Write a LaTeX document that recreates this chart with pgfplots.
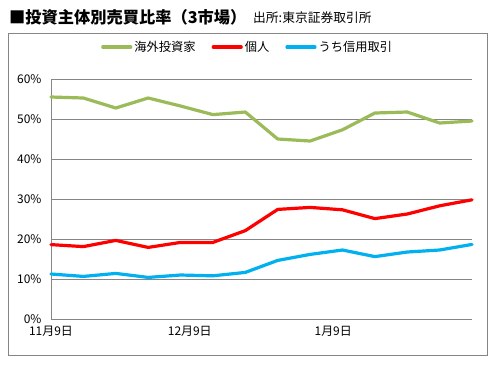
\documentclass[border=0pt]{standalone}
\usepackage{fontspec}
\setmainfont{Noto Sans CJK JP}
\usepackage{pgfplots}
\pgfplotsset{compat=1.18}

\definecolor{cgreen}{HTML}{9BBB59}
\definecolor{cred}{HTML}{FF0000}
\definecolor{cblue}{HTML}{00B0F0}
\definecolor{cgrid}{HTML}{868686}

\begin{document}
\begin{tikzpicture}[x=1bp,y=1bp]
\useasboundingbox (0,0) rectangle (494,-364);
\fill[white] (0,0) rectangle (494,-364);
\draw[cgrid, line width=1bp] (8,-33) rectangle (487,-355);
\node[anchor=base west, inner sep=0, font=\fontsize{16.3}{16}\selectfont\bfseries] at (9,-23) {■投資主体別売買比率（3市場）};
\node[anchor=base west, inner sep=0, font=\fontsize{12.8}{12.8}\selectfont] at (253,-22) {出所:東京証券取引所};
\begin{axis}[
  at={(51bp,-319bp)}, anchor=south west,
  scale only axis, width=421bp, height=240bp,
  xmin=0, xmax=91, ymin=0, ymax=60,
  axis x line=bottom, axis y line=left,
  axis line style={cgrid, line width=1bp, -},
  ymajorgrids, grid style={cgrid, line width=1bp},
  ytick={0,10,...,60},
  yticklabel={\pgfmathprintnumber{\tick}\%},
  xtick={0,30,61}, xticklabels={11月9日,12月9日,1月9日},
  major tick length=0,
  tick label style={font=\fontsize{12}{12}\selectfont},
  /pgf/number format/assume math mode=true,
  xticklabel style={yshift=-4bp},
  yticklabel style={xshift=-6bp},
  clip=false,
  legend style={at={(0.467,1.133)}, anchor=center, draw=none, fill=none,
    legend columns=3, font=\fontsize{12.3}{12.3}\selectfont,
    /tikz/every even column/.append style={column sep=14bp}},
  legend image code/.code={\draw[#1] (0bp,0bp) -- (28bp,0bp);},
  every axis plot/.append style={line width=3.2bp, line join=round, line cap=round},
]
\addplot[cgreen] coordinates {
(0,55.5) (7,55.25) (14,52.75) (21,55.25) (28,53.25) (35,51.1) (42,51.75)
(49,45.0) (56,44.5) (63,47.3) (70,51.5) (77,51.75) (84,49.0) (91,49.5)};
\addlegendentry{海外投資家}
\addplot[cred] coordinates {
(0,18.6) (7,18.1) (14,19.65) (21,17.9) (28,19.15) (35,19.15) (42,22.1)
(49,27.4) (56,27.9) (63,27.3) (70,25.1) (77,26.25) (84,28.3) (91,29.8)};
\addlegendentry{個人}
\addplot[cblue] coordinates {
(0,11.25) (7,10.65) (14,11.4) (21,10.4) (28,11.0) (35,10.8) (42,11.65)
(49,14.65) (56,16.15) (63,17.25) (70,15.6) (77,16.75) (84,17.25) (91,18.65)};
\addlegendentry{うち信用取引}
\end{axis}
\end{tikzpicture}
\end{document}
